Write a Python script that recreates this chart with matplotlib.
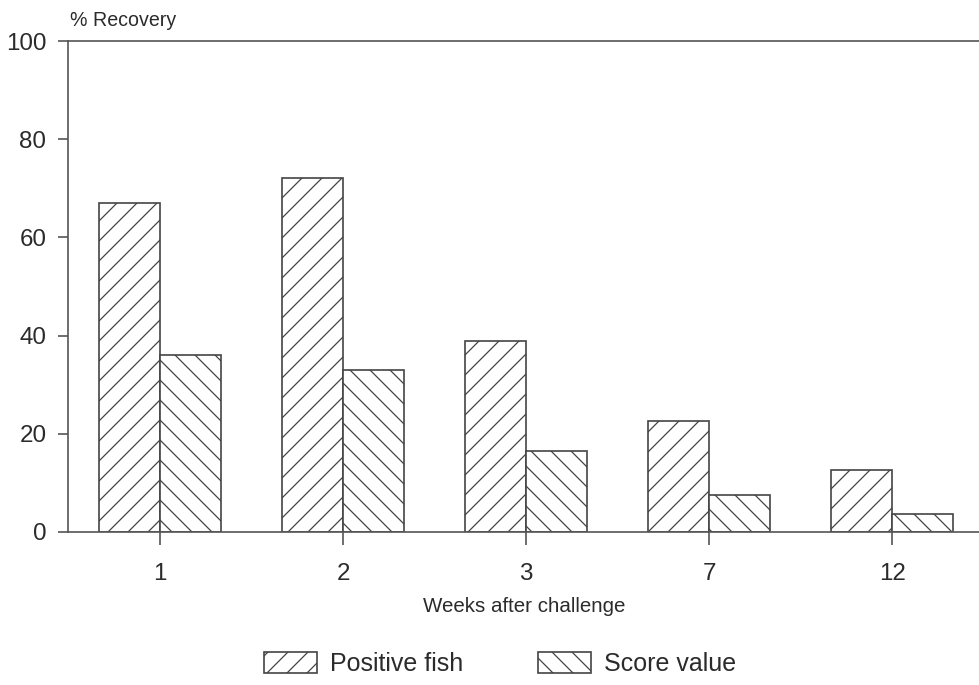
import matplotlib
matplotlib.use("Agg")
import matplotlib.pyplot as plt
import numpy as np

weeks = ["1", "2", "3", "7", "12"]
positive_fish = [67.0, 72.1, 38.9, 22.6, 12.6]
score_value = [36.0, 33.0, 16.5, 7.5, 3.7]
y_ticks = [0, 20, 40, 60, 80, 100]

plt.rcParams["font.family"] = ["Liberation Sans", "DejaVu Sans"]
plt.rcParams["hatch.linewidth"] = 0.75
plt.rcParams["hatch.color"] = "#3a3a3a"

ink = "#2b2b2b"
line = "#555555"

fig = plt.figure(figsize=(980 / 120, 685 / 120), dpi=120)
ax = fig.add_axes([68 / 980, 1 - 532 / 685, 1 - 68 / 980, (532 - 41) / 685])

x = np.arange(len(weeks))
w = 0.333
ax.bar(x - w / 2, positive_fish, width=w, facecolor="white", edgecolor="#444444",
       linewidth=1.0, hatch="//", label="Positive fish", zorder=2)
ax.bar(x + w / 2, score_value, width=w, facecolor="white", edgecolor="#444444",
       linewidth=1.0, hatch="\\\\", label="Score value", zorder=2)

ax.set_xlim(-0.503, 4.48)
ax.set_ylim(0, 100)
ax.set_yticks(y_ticks)
ax.set_xticks(x)
ax.set_xticklabels(weeks)

for side in ("top", "bottom", "left"):
    ax.spines[side].set_color(line)
    ax.spines[side].set_linewidth(1.0)
ax.spines["right"].set_visible(False)

ax.tick_params(axis="y", direction="out", length=6, width=1.0, color=line,
               pad=7, labelsize=14.5, labelcolor=ink)
ax.tick_params(axis="x", direction="out", length=8, width=1.0, color=line,
               pad=10.5, labelsize=14.5, labelcolor=ink)

ax.set_xlabel("Weeks after challenge", fontsize=12.3, color=ink, labelpad=7)
fig.text(70 / 980, 1 - 20 / 685, "% Recovery", fontsize=11.8, color=ink,
         ha="left", va="center")

fig.legend(loc="center", bbox_to_anchor=(500 / 980, 1 - 664 / 685), ncol=2,
           frameon=False, fontsize=15, handlelength=2.1, handleheight=0.9,
           handletextpad=0.52, columnspacing=3.0, labelcolor=ink)

fig.savefig("out.png", dpi=120, facecolor="white")
